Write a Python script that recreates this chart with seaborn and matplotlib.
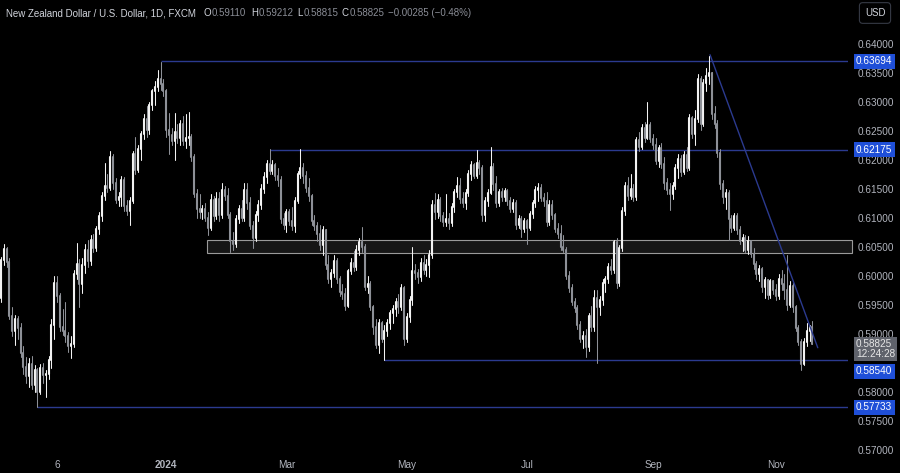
import matplotlib
matplotlib.use("Agg")
import matplotlib.pyplot as plt
from matplotlib.patches import Rectangle
import numpy as np
import pandas as pd
import seaborn as sns
import seaborn.objects as so

# ---------------- data (prices in pips: 1 = 0.0001) ----------------
opens = [
    5962, 6027, 6046, 6024, 5930, 5905, 5925, 5910, 5866, 5842,
    5826, 5848, 5812, 5838, 5800, 5840, 5828, 5830, 5855, 5915,
    5988, 5965, 5912, 5905, 5895, 5878, 5882, 6002, 6020, 5985,
    6018, 6045, 6025, 6062, 6048, 6080, 6102, 6138, 6155, 6152,
    6205, 6160, 6130, 6135, 6165, 6120, 6112, 6128, 6210, 6182,
    6218, 6245, 6270, 6252, 6295, 6318, 6325, 6340, 6330, 6318,
    6252, 6242, 6232, 6248, 6238, 6262, 6232, 6238, 6240, 6205,
    6140, 6115, 6110, 6115, 6100, 6082, 6130, 6102, 6132, 6105,
    6148, 6138, 6105, 6060, 6055, 6098, 6115, 6100, 6148, 6125,
    6085, 6065, 6105, 6122, 6150, 6170, 6192, 6180, 6190, 6172,
    6165, 6098, 6088, 6110, 6094, 6085, 6128, 6175, 6185, 6172,
    6152, 6138, 6095, 6085, 6072, 6052, 6078, 6018, 5995, 6005,
    6025, 5995, 5972, 5968, 5948, 6008, 6022, 6015, 6045, 6058,
    6050, 5980, 5985, 5946, 5912, 5880, 5918, 5890, 5905, 5918,
    5935, 5942, 5955, 5945, 5978, 5890, 5928, 5958, 6008, 6005,
    5998, 6022, 6010, 6018, 6035, 6122, 6110, 6130, 6102, 6092,
    6098, 6090, 6118, 6145, 6155, 6132, 6125, 6142, 6175, 6190,
    6172, 6195, 6185, 6105, 6128, 6142, 6188, 6158, 6125, 6145,
    6135, 6146, 6128, 6115, 6125, 6088, 6098, 6080, 6095, 6082,
    6106, 6125, 6148, 6152, 6134, 6128, 6092, 6122, 6104, 6080,
    6072, 6050, 6045, 6000, 5978, 5955, 5944, 5914, 5890, 5895,
    5876, 5930, 5912, 5962, 5945, 5958, 5988, 5994, 6015, 6010,
    6058, 5988, 6048, 6112, 6155, 6138, 6150, 6135, 6234, 6222,
    6255, 6238, 6260, 6236, 6225, 6198, 6220, 6192, 6160, 6148,
    6140, 6155, 6186, 6202, 6178, 6208, 6186, 6272, 6245, 6270,
    6340, 6262, 6332, 6345, 6350, 6278, 6262, 6212, 6158, 6135,
    6142, 6098, 6082, 6102, 6078, 6060, 6065, 6045, 6060, 6038,
    6020, 6002, 6012, 5980, 5992, 5966, 5990, 5975, 5965, 5995,
    5985, 5975, 5950, 5982, 5945, 5910, 5886, 5848, 5885, 5905,
    5911.0,
]
highs = [
    6032, 6055, 6050, 6030, 5945, 5932, 5930, 5918, 5878, 5860,
    5858, 5862, 5845, 5840, 5848, 5850, 5838, 5862, 5925, 6000,
    6000, 5970, 5942, 5955, 5902, 5895, 6010, 6056, 6028, 6030,
    6055, 6062, 6070, 6072, 6085, 6110, 6145, 6195, 6175, 6215,
    6210, 6168, 6145, 6172, 6170, 6130, 6135, 6215, 6240, 6225,
    6250, 6278, 6292, 6300, 6322, 6335, 6355, 6369, 6340, 6322,
    6280, 6255, 6280, 6262, 6268, 6275, 6278, 6282, 6245, 6210,
    6150, 6140, 6122, 6125, 6110, 6140, 6138, 6145, 6145, 6160,
    6155, 6152, 6110, 6075, 6105, 6122, 6130, 6160, 6160, 6135,
    6095, 6112, 6130, 6158, 6178, 6200, 6219, 6200, 6195, 6185,
    6172, 6108, 6115, 6115, 6118, 6135, 6180, 6218, 6195, 6180,
    6168, 6140, 6105, 6092, 6088, 6085, 6080, 6035, 6012, 6035,
    6030, 6000, 5985, 5978, 6012, 6030, 6042, 6052, 6065, 6084,
    6055, 6000, 5990, 5950, 5925, 5925, 5922, 5915, 5925, 5940,
    5950, 5962, 5968, 5985, 5982, 5935, 5965, 6050, 6020, 6012,
    6030, 6035, 6028, 6045, 6130, 6142, 6140, 6135, 6110, 6140,
    6108, 6125, 6150, 6170, 6168, 6145, 6150, 6182, 6198, 6195,
    6217, 6200, 6190, 6135, 6150, 6222, 6195, 6172, 6150, 6152,
    6152, 6150, 6135, 6132, 6130, 6105, 6102, 6100, 6098, 6112,
    6130, 6155, 6160, 6158, 6142, 6145, 6130, 6130, 6108, 6090,
    6088, 6070, 6050, 6008, 5985, 5962, 5950, 5922, 5905, 5908,
    5935, 5948, 5975, 5975, 5965, 5995, 6000, 6022, 6028, 6062,
    6065, 6052, 6118, 6162, 6170, 6176, 6158, 6240, 6248, 6262,
    6265, 6300, 6265, 6245, 6238, 6225, 6228, 6205, 6168, 6160,
    6162, 6192, 6210, 6208, 6215, 6222, 6278, 6275, 6285, 6348,
    6345, 6340, 6358, 6379, 6352, 6292, 6268, 6218, 6165, 6150,
    6148, 6105, 6108, 6108, 6085, 6072, 6070, 6068, 6062, 6048,
    6025, 6018, 6015, 5998, 5995, 5995, 5992, 5985, 6002, 6010,
    6002, 6035, 5990, 5988, 5950, 5915, 5890, 5892, 5918, 5915,
    5921.2,
]
lows = [
    5955, 6018, 6015, 5925, 5895, 5880, 5890, 5860, 5830, 5815,
    5808, 5805, 5800, 5773, 5795, 5815, 5790, 5822, 5840, 5890,
    5955, 5905, 5898, 5885, 5868, 5858, 5876, 5995, 5945, 5970,
    6005, 6015, 6018, 6040, 6042, 6072, 6095, 6130, 6145, 6148,
    6150, 6125, 6120, 6120, 6112, 6105, 6088, 6125, 6175, 6178,
    6200, 6235, 6240, 6245, 6285, 6295, 6318, 6320, 6310, 6240,
    6210, 6225, 6200, 6228, 6225, 6225, 6220, 6225, 6198, 6135,
    6100, 6100, 6098, 6095, 6070, 6078, 6095, 6098, 6095, 6100,
    6130, 6100, 6041, 6045, 6050, 6090, 6095, 6095, 6115, 6080,
    6048, 6060, 6095, 6115, 6142, 6160, 6175, 6175, 6165, 6155,
    6090, 6080, 6075, 6088, 6078, 6075, 6125, 6168, 6160, 6145,
    6128, 6088, 6078, 6060, 6045, 6035, 6012, 5988, 5980, 5998,
    5988, 5965, 5960, 5940, 5945, 6002, 6008, 6010, 6035, 6040,
    5975, 5970, 5940, 5900, 5875, 5866, 5885, 5854, 5895, 5908,
    5918, 5930, 5935, 5940, 5880, 5885, 5920, 5950, 5995, 5988,
    5990, 6002, 6000, 5998, 6030, 6098, 6100, 6095, 6085, 6085,
    6080, 6085, 6110, 6135, 6125, 6118, 6115, 6138, 6165, 6168,
    6168, 6175, 6095, 6095, 6120, 6140, 6148, 6118, 6120, 6128,
    6128, 6122, 6110, 6110, 6080, 6082, 6067, 6075, 6055, 6078,
    6100, 6118, 6128, 6128, 6120, 6085, 6088, 6098, 6075, 6065,
    6045, 6040, 5995, 5972, 5950, 5938, 5908, 5885, 5875, 5860,
    5870, 5905, 5905, 5850, 5932, 5950, 5972, 5988, 6002, 6005,
    5979, 5982, 6042, 6105, 6130, 6132, 6128, 6130, 6215, 6218,
    6230, 6235, 6230, 6218, 6192, 6188, 6185, 6150, 6140, 6113,
    6132, 6150, 6168, 6172, 6175, 6180, 6182, 6238, 6225, 6265,
    6252, 6258, 6318, 6330, 6270, 6255, 6205, 6150, 6125, 6115,
    6062, 6075, 6078, 6072, 6055, 6042, 6040, 6038, 6032, 6012,
    5995, 5990, 5972, 5962, 5960, 5962, 5968, 5958, 5960, 5975,
    5960, 5940, 5945, 5938, 5905, 5880, 5837, 5845, 5878, 5888,
    5881.5,
]
closes = [
    6027, 6046, 6024, 5930, 5905, 5925, 5910, 5866, 5842, 5826,
    5848, 5812, 5838, 5800, 5840, 5828, 5830, 5855, 5915, 5988,
    5965, 5912, 5905, 5895, 5878, 5882, 6002, 6020, 5985, 6018,
    6045, 6025, 6062, 6048, 6080, 6102, 6138, 6155, 6152, 6205,
    6160, 6130, 6135, 6165, 6120, 6112, 6128, 6210, 6182, 6218,
    6245, 6270, 6252, 6295, 6318, 6325, 6340, 6330, 6318, 6252,
    6242, 6232, 6248, 6238, 6262, 6232, 6238, 6240, 6205, 6140,
    6115, 6110, 6115, 6100, 6082, 6130, 6102, 6132, 6105, 6148,
    6138, 6105, 6060, 6055, 6098, 6115, 6100, 6148, 6125, 6085,
    6065, 6105, 6122, 6150, 6170, 6192, 6180, 6190, 6172, 6165,
    6098, 6088, 6110, 6094, 6085, 6128, 6175, 6185, 6172, 6152,
    6138, 6095, 6085, 6072, 6052, 6078, 6018, 5995, 6005, 6025,
    5995, 5972, 5968, 5948, 6008, 6022, 6015, 6045, 6058, 6050,
    5980, 5985, 5946, 5912, 5880, 5918, 5890, 5905, 5918, 5935,
    5942, 5955, 5945, 5978, 5890, 5928, 5958, 6008, 6005, 5998,
    6022, 6010, 6018, 6035, 6122, 6110, 6130, 6102, 6092, 6098,
    6090, 6118, 6145, 6155, 6132, 6125, 6142, 6175, 6190, 6172,
    6195, 6185, 6105, 6128, 6142, 6188, 6158, 6125, 6145, 6135,
    6146, 6128, 6115, 6125, 6088, 6098, 6080, 6095, 6082, 6106,
    6125, 6148, 6152, 6134, 6128, 6092, 6122, 6104, 6080, 6072,
    6050, 6045, 6000, 5978, 5955, 5944, 5914, 5890, 5895, 5876,
    5930, 5912, 5962, 5945, 5958, 5988, 5994, 6015, 6010, 6058,
    5988, 6048, 6112, 6155, 6138, 6150, 6135, 6234, 6222, 6255,
    6238, 6260, 6236, 6225, 6198, 6220, 6192, 6160, 6148, 6140,
    6155, 6186, 6202, 6178, 6208, 6186, 6272, 6245, 6270, 6340,
    6262, 6332, 6345, 6350, 6278, 6262, 6212, 6158, 6135, 6142,
    6098, 6082, 6102, 6078, 6060, 6065, 6045, 6060, 6038, 6020,
    6002, 6012, 5980, 5992, 5966, 5990, 5975, 5965, 5995, 5985,
    5975, 5950, 5982, 5945, 5910, 5886, 5848, 5885, 5905, 5911,
    5882.5,
]

first_day = "2023-10-09"
holidays = ["2023-12-25", "2024-01-01"]
tick_dates = ["2023-11-06", "2024-01-02", "2024-03-01", "2024-05-01",
              "2024-07-01", "2024-09-02", "2024-11-01"]
tick_labels = ["6", "2024", "Mar", "May", "Jul", "Sep", "Nov"]

price_ticks = [0.570, 0.575, 0.580, 0.585, 0.590, 0.595, 0.600, 0.605,
               0.610, 0.615, 0.620, 0.625, 0.630, 0.635, 0.640]
hidden_ticks = [0.585]   # covered by the price boxes in the reference

level_prices = [0.63694, 0.62175, 0.58540, 0.57733]
level_from = ["2023-12-28", "2024-02-22", "2024-04-19", "2023-10-26"]
zone_low, zone_high = 0.60389, 0.60614
zone_from = "2024-01-23"
trend_dates = ["2024-09-30", "2024-11-22"]
trend_prices = [0.6381, 0.58756]

title = "New Zealand Dollar / U.S. Dollar, 1D, FXCM"
ohlc_text = [("O", "0.59110"), ("H", "0.59212"), ("L", "0.58815"), ("C", "0.58825")]
change_text = "\u22120.00285 (\u22120.48%)"
last_price = 0.58825
countdown = "12:24:28"

# ---------------- frame ----------------
n = len(closes)
all_days = pd.bdate_range(first_day, periods=n + 60)
all_days = all_days[~all_days.isin(pd.to_datetime(holidays))]
pos = {d: i for i, d in enumerate(all_days)}

df = pd.DataFrame({
    "idx": np.arange(n),
    "date": all_days[:n],
    "open": np.array(opens) / 1e4,
    "high": np.array(highs) / 1e4,
    "low": np.array(lows) / 1e4,
    "close": np.array(closes) / 1e4,
})
df["body_lo"] = df[["open", "close"]].min(axis=1)
df["body_hi"] = df[["open", "close"]].max(axis=1)
up = df[df["close"] >= df["open"]]
dn = df[df["close"] < df["open"]]

def ix(d):
    return pos[pd.Timestamp(d)]

# ---------------- style ----------------
BG = "#000000"
UP = "#f2f2f2"
DOWN = "#8d9097"
NAVY = "#2b3a8f"
BLUE = "#1f4fd8"
TXT = "#b2b5be"
FONT = "Liberation Sans"

sns.set_theme(style="dark", rc={"axes.facecolor": BG, "figure.facecolor": BG})
plt.rcParams["font.family"] = [FONT, "DejaVu Sans"]

W, H = 900, 473
fig = plt.figure(figsize=(W / 100, H / 100), dpi=100, facecolor=BG)
ax_w, ax_bot = 848, 17
ax = fig.add_axes([0, ax_bot / H, ax_w / W, (H - ax_bot) / H])
ax.set_facecolor(BG)

x_lo = -0.37
x_hi = x_lo + ax_w / 2.798
y_top, y_bot = 0.64755, 0.56888

# zone and level lines (behind candles)
ax.add_patch(Rectangle((ix(zone_from) - 0.3, zone_low), x_hi + 1.8 - ix(zone_from),
                       zone_high - zone_low, facecolor="#161616",
                       edgecolor="#9a9a9a", linewidth=0.8, zorder=0.5, clip_on=False))
for p_, d_ in zip(level_prices, level_from):
    ax.hlines(p_, ix(d_), x_hi + 1, color=NAVY, linewidth=1.0, zorder=0.6)

# candles via seaborn objects
thm = {**sns.axes_style("dark"), "axes.facecolor": BG, "axes.grid": False,
       "figure.facecolor": BG}
(
    so.Plot()
    .add(so.Range(color=UP, linewidth=0.75), data=up, x="idx", ymin="low", ymax="high", legend=False)
    .add(so.Range(color=DOWN, linewidth=0.75), data=dn, x="idx", ymin="low", ymax="high", legend=False)
    .add(so.Range(color=UP, linewidth=1.5), data=up, x="idx", ymin="body_lo", ymax="body_hi", legend=False)
    .add(so.Range(color=DOWN, linewidth=1.5), data=dn, x="idx", ymin="body_lo", ymax="body_hi", legend=False)
    .theme(thm)
    .on(ax)
    .plot()
)

# trend line
ax.plot([ix(trend_dates[0]) + 0.4, ix(trend_dates[1]) - 0.1], trend_prices,
        color=NAVY, linewidth=1.0, zorder=3)

ax.set_xlim(x_lo, x_hi)
ax.set_ylim(y_bot, y_top)
ax.grid(False)
for s in ax.spines.values():
    s.set_visible(False)
ax.set_xlabel("")
ax.set_ylabel("")

ax.yaxis.tick_right()
ax.set_yticks(price_ticks)
ax.set_yticklabels(["" if any(abs(v - h) < 1e-9 for h in hidden_ticks) else f"{v:.5f}"
                    for v in price_ticks])
ax.set_xticks([ix(d) for d in tick_dates])
ax.set_xticklabels(tick_labels)
ax.tick_params(axis="y", colors=TXT, labelsize=7.2, length=0, pad=7)
ax.tick_params(axis="x", colors=TXT, labelsize=7.2, length=0, pad=3)
for t in ax.get_xticklabels():
    t.set_fontfamily([FONT, "DejaVu Sans"])
    if t.get_text() == "2024":
        t.set_fontweight("bold")
for t in ax.get_yticklabels():
    t.set_fontfamily([FONT, "DejaVu Sans"])

# price labels on the right scale
ytr = ax.get_yaxis_transform()
shift = {0.58540: -11}
for p_ in level_prices:
    ax.annotate(f"{p_:.5f}", xy=(1, p_), xycoords=ytr,
                xytext=(8, shift.get(p_, 0)), textcoords="offset pixels",
                ha="left", va="center", color="white", fontsize=7.2,
                bbox=dict(boxstyle="square,pad=0.25", fc=BLUE, ec="none"),
                annotation_clip=False, zorder=10)
ax.annotate(f"{last_price:.5f}\n{countdown}", xy=(1, last_price), xycoords=ytr,
            xytext=(8, -5), textcoords="offset pixels", ha="left", va="center",
            color="#e6e6e6", fontsize=7.2, linespacing=1.0,
            bbox=dict(boxstyle="square,pad=0.22", fc="#5f626b", ec="none"),
            annotation_clip=False, zorder=11)

# header
def fx(px):
    return px / W

def fy(py):
    return 1 - py / H

fig.text(fx(6), fy(13), title, color="#d1d4dc", fontsize=7, va="center", ha="left")
xs = [(204, 212), (251, 259), (297, 304), (342, 350)]
for (lab, val), (xl, xv) in zip(ohlc_text, xs):
    fig.text(fx(xl), fy(13), lab, color="#d1d4dc", fontsize=7, va="center")
    fig.text(fx(xv), fy(13), val, color="#8a8d96", fontsize=7, va="center")
fig.text(fx(388), fy(13), change_text, color="#8a8d96", fontsize=7, va="center")

fig.text(fx(875), fy(13), "USD", color="#d1d4dc", fontsize=7, ha="center", va="center",
         bbox=dict(boxstyle="round,pad=0.55,rounding_size=0.35", fc=BG, ec="#363a45", lw=0.8))

fig.savefig("out.png", dpi=100, facecolor=BG)
